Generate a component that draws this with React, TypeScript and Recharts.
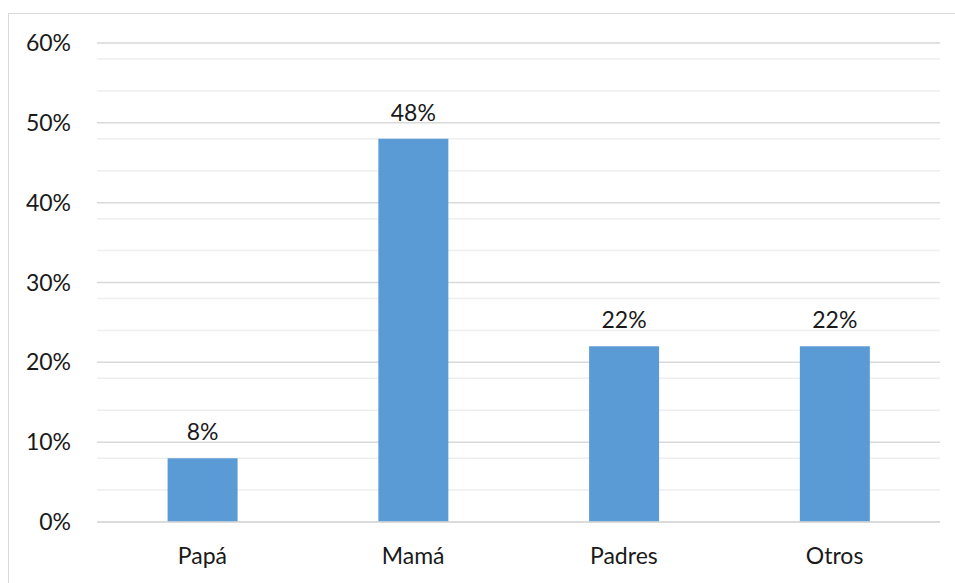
import React from "react";
import { BarChart, Bar, XAxis, YAxis, CartesianGrid, LabelList } from "recharts";

const categories = ["Papá", "Mamá", "Padres", "Otros"];
const values = [0.08, 0.48, 0.22, 0.22];
const majorTicks = [0, 0.1, 0.2, 0.3, 0.4, 0.5, 0.6];
const minorTicks = [0.02, 0.04, 0.06, 0.08, 0.12, 0.14, 0.16, 0.18, 0.22, 0.24, 0.26, 0.28, 0.32, 0.34, 0.36, 0.38, 0.42, 0.44, 0.46, 0.48, 0.52, 0.54, 0.56, 0.58];

const data = categories.map((c, i) => ({ name: c, value: values[i] }));
const pct = (v: number) => `${Math.round(v * 100)}%`;
const font = "Lato, 'Open Sans', sans-serif";

export default function App() {
  return (
    <div style={{ position: "absolute", left: 0, top: 0, width: 955, height: 583, overflow: "hidden", background: "#fff" }}>
      <div style={{ position: "absolute", left: 8, top: 13, width: 1000, height: 700, border: "1px solid #d9d9d9", boxSizing: "border-box" }} />
      <div style={{ position: "absolute", left: 0, top: 0 }}>
        <BarChart width={955} height={583} data={data} margin={{ top: 43, right: 15, bottom: 21, left: 0 }} barCategoryGap="33.5%">
          <CartesianGrid vertical={false} horizontalValues={minorTicks} stroke="#eeeeee" strokeWidth={1.5} />
          <CartesianGrid vertical={false} horizontalValues={majorTicks} stroke="#d9d9d9" strokeWidth={1.5} />
          <XAxis dataKey="name" height={40} axisLine={{ stroke: "#d9d9d9", strokeWidth: 1.5 }} tickLine={false} tickMargin={20}
            tick={{ fill: "#1a1a1a", fontSize: 23, fontFamily: font }} />
          <YAxis width={97} domain={[0, 0.6]} ticks={majorTicks} tickFormatter={pct} axisLine={false} tickLine={false}
            tickSize={0} tickMargin={26} tick={{ fill: "#1a1a1a", fontSize: 23, fontFamily: font }} />
          <Bar dataKey="value" fill="#5b9bd5" isAnimationActive={false}>
            <LabelList dataKey="value" position="top" offset={18} formatter={(v: any) => pct(Number(v))}
              style={{ fill: "#1a1a1a", fontSize: 23, fontFamily: font }} />
          </Bar>
        </BarChart>
      </div>
    </div>
  );
}
